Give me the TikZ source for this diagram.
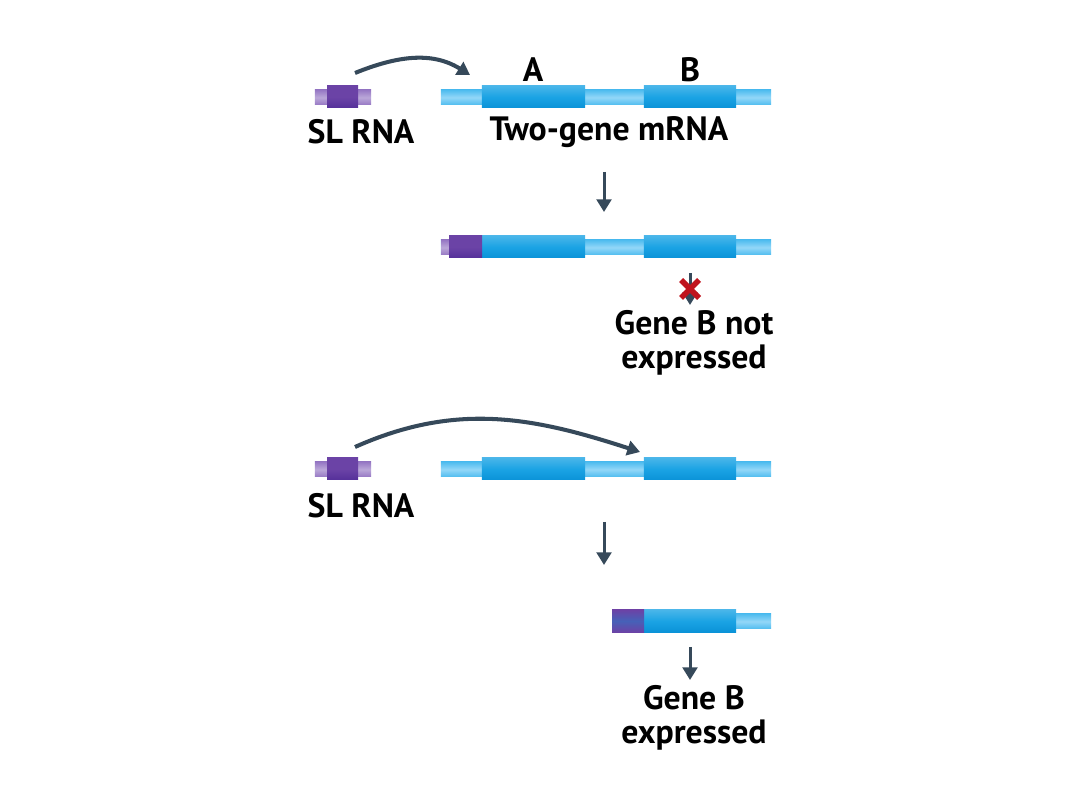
\documentclass[tikz,border=0pt]{standalone}
\usepackage{fontspec}
\setmainfont{PT Sans}
\usetikzlibrary{positioning,arrows.meta}
\definecolor{thinblue}{HTML}{4FBCEF}
\definecolor{thinblueh}{HTML}{93D7F8}
\definecolor{thickblue}{HTML}{1BA3E4}
\definecolor{thickblued}{HTML}{0A93D8}
\definecolor{slthinc}{HTML}{9678C4}
\definecolor{slthickc}{HTML}{6B43A6}
\definecolor{slthickd}{HTML}{55309A}
\definecolor{joinc}{HTML}{4661B8}
\definecolor{arrc}{HTML}{36495A}
\definecolor{crossc}{HTML}{C0141E}
\begin{document}
\begin{tikzpicture}[x=0.01cm,y=0.01cm,>={Triangle[length=3.6pt,width=4.2pt]},
		every node/.style={inner sep=0,outer sep=0},
		thinbar/.style={rectangle,minimum height=0.15cm,top color=thinblue,bottom color=thinblue,middle color=thinblueh},
		thickbar/.style={rectangle,minimum height=0.22cm,top color=thickblue!80!white,bottom color=thickblued,middle color=thickblue},
		slthin/.style={rectangle,minimum height=0.15cm,top color=slthinc,bottom color=slthinc,middle color=slthinc!65!white},
		slthick/.style={rectangle,minimum height=0.22cm,top color=slthickc,bottom color=slthickd,middle color=slthickc},
		joined/.style={rectangle,minimum height=0.22cm,top color=slthickc,bottom color=slthickc,middle color=joinc},
		lbl/.style={font=\fontsize{9.6}{9.5}\selectfont\bfseries,align=center},
		curve/.style={->,draw=arrc,line width=1.15pt},
		down/.style={->,draw=arrc,line width=0.85pt}]
		\useasboundingbox (0,0) rectangle (1080,810);
		% first pair
		\node[slthin,minimum width=0.56cm] (s1) at (343,712.5) {};
		\node[slthick,minimum width=0.31cm] (t1) at (342.5,713) {};
		\node[lbl] (sl1) at (361,678) {SL RNA};
		\node[thinbar,minimum width=3.3cm] (m1) at (606,712.5) {};
		\node[thickbar,minimum width=1.03cm] (a1) at (533.5,713) {};
		\node[thickbar,minimum width=0.92cm] (b1) at (690,713) {};
		\node[lbl] (la) at (533,740) {A};
		\node[lbl] (lb) at (690,740) {B};
		\node[lbl] (tg) at (609,678) {Two-gene mRNA};
		\coordinate (c1) at (355,737); \coordinate (d1) at (470,735);
		\draw[curve] (c1) to[out=22,in=148] (d1);
		\coordinate (e1) at (604,638); \coordinate (f1) at (604,598);
		\draw[down] (e1) -- (f1);
		% fused product
		\node[thinbar,minimum width=3.3cm] (m2) at (606,562.5) {};
		\node[thickbar,minimum width=1.03cm] (a2) at (533.5,563) {};
		\node[thickbar,minimum width=0.92cm] (b2) at (690,563) {};
		\node[slthin,minimum width=0.08cm] (s2) at (445,562.5) {};
		\node[slthick,minimum width=0.33cm] (t2) at (465.5,563) {};
		\coordinate (e2) at (690,537); \coordinate (f2) at (690,505);
		\draw[down] (e2) -- (f2);
		\draw[crossc,line width=1.6pt] (681,530) -- (699,512) (681,512) -- (699,530);
		\node[lbl] (nb) at (694,467) {Gene B not\\expressed};
		% second pair
		\node[slthin,minimum width=0.56cm] (s3) at (343,340.5) {};
		\node[slthick,minimum width=0.31cm] (t3) at (342.5,341) {};
		\node[lbl] (sl3) at (361,304) {SL RNA};
		\node[thinbar,minimum width=3.3cm] (m3) at (606,340.5) {};
		\node[thickbar,minimum width=1.03cm] (a3) at (533.5,341) {};
		\node[thickbar,minimum width=0.92cm] (b3) at (690,341) {};
		\coordinate (c3) at (355,363); \coordinate (d3) at (640,358);
		\draw[curve] (c3) to[out=24,in=162] (d3);
		\coordinate (e3) at (604,288); \coordinate (f3) at (604,245);
		\draw[down] (e3) -- (f3);
		% spliced B
		\node[thinbar,minimum width=1.27cm] (m4) at (707.5,188.5) {};
		\node[thickbar,minimum width=0.92cm] (b4) at (690,189) {};
		\node[joined,minimum width=0.32cm] (t4) at (628,189) {};
		\coordinate (e4) at (690,163); \coordinate (f4) at (690,130);
		\draw[down] (e4) -- (f4);
		\node[lbl] (yb) at (694,92) {Gene B\\expressed};
	\end{tikzpicture}
\end{document}
